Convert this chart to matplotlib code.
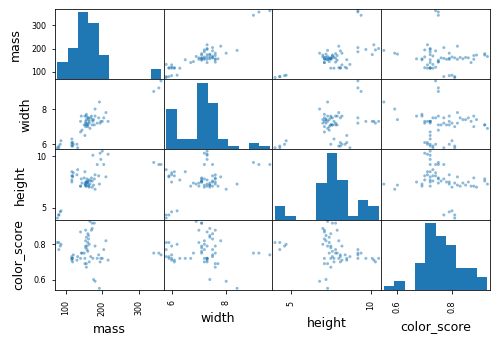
import matplotlib
matplotlib.use("Agg")
import matplotlib.pyplot as plt
import pandas as pd

mass = [192, 180, 176, 86, 84, 80, 80, 76, 178, 172, 166, 172, 154, 164, 152, 156, 156, 168,
        162, 162, 160, 156, 140, 170, 342, 356, 362, 204, 140, 160, 158, 210, 164, 190, 142,
        150, 160, 154, 158, 144, 154, 180, 154, 194, 200, 186, 216, 196, 174, 132, 130, 116,
        118, 120, 116, 116, 116, 152, 118]
width = [8.4, 8.0, 7.4, 6.2, 6.0, 5.8, 5.9, 5.8, 7.1, 7.4, 6.9, 7.1, 7.0, 7.3, 7.6, 7.7, 7.6, 7.5,
         7.5, 7.4, 7.5, 7.4, 7.3, 7.6, 9.0, 9.2, 9.6, 7.5, 6.7, 7.0, 7.1, 7.8, 7.2, 7.5, 7.6,
         7.1, 7.1, 7.3, 7.2, 6.8, 7.1, 7.6, 7.2, 7.2, 7.3, 7.2, 7.3, 7.3, 7.3, 5.8, 6.0, 6.0,
         5.9, 6.0, 6.1, 6.3, 5.9, 6.5, 6.1]
height = [7.3, 6.8, 7.2, 4.7, 4.6, 4.3, 4.3, 4.0, 7.8, 7.0, 7.3, 7.6, 7.1, 7.7, 7.3, 7.1, 7.5, 7.6,
          7.1, 7.2, 7.5, 7.4, 7.1, 7.9, 9.4, 9.2, 9.2, 9.2, 7.1, 7.4, 7.5, 8.0, 7.0, 8.1, 7.8,
          7.9, 7.6, 7.3, 7.8, 7.4, 7.5, 8.2, 7.2, 10.3, 10.5, 9.2, 10.2, 9.7, 10.1, 8.7, 8.2, 7.5,
          8.0, 8.4, 8.5, 7.7, 8.1, 8.5, 8.1]
color_score = [0.55, 0.59, 0.60, 0.80, 0.79, 0.77, 0.81, 0.81, 0.92, 0.89, 0.93, 0.92, 0.88, 0.70,
               0.69, 0.69, 0.67, 0.73, 0.83, 0.85, 0.86, 0.84, 0.87, 0.88, 0.75, 0.75, 0.74, 0.77,
               0.72, 0.81, 0.79, 0.82, 0.80, 0.74, 0.75, 0.75, 0.76, 0.79, 0.77, 0.75, 0.78, 0.79,
               0.82, 0.70, 0.72, 0.72, 0.71, 0.72, 0.72, 0.73, 0.71, 0.72, 0.72, 0.74, 0.71, 0.72,
               0.73, 0.72, 0.70]
height_ticks = [5, 10]

df = pd.DataFrame({"mass": mass, "width": width, "height": height, "color_score": color_score})

plt.rcParams["axes.labelsize"] = 12.5
plt.rcParams["xtick.labelsize"] = 9.5
plt.rcParams["ytick.labelsize"] = 9.5
plt.rcParams["xtick.major.pad"] = 7
plt.rcParams["ytick.major.pad"] = 5

fig = plt.figure(figsize=(498 / 72, 344 / 72), dpi=72)
ax = fig.add_subplot(111)
axes = pd.plotting.scatter_matrix(df, ax=ax)
axes[3, 2].set_xticks(height_ticks)
axes[3, 2].set_xticklabels([str(t) for t in height_ticks], rotation=90)
axes[2, 0].set_yticks(height_ticks)
axes[2, 0].set_yticklabels([str(t) for t in height_ticks])
for a in axes.flatten():
    a.xaxis.label.set_size(12.5)
    a.yaxis.label.set_size(12.5)
for a in axes[-1, :]:
    a.xaxis.labelpad = 7
for a in axes[:, 0]:
    a.yaxis.labelpad = 9
fig.subplots_adjust(left=0.11, right=0.984, top=0.974, bottom=0.157, wspace=0, hspace=0)
fig.savefig("out.png", dpi=72)
